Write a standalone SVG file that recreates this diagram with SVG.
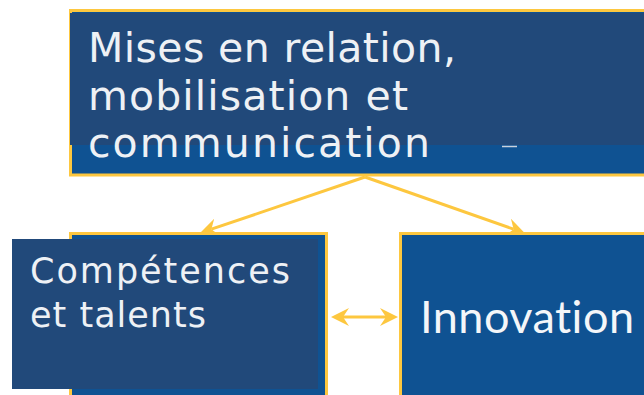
<svg xmlns="http://www.w3.org/2000/svg" width="644" height="395" viewBox="0 0 644 395">
<style>
.box{fill:#0F5292;stroke:#FDC73F;stroke-width:3}
.over{fill:#21497A}
.lbl{font-family:"DejaVu Sans","Open Sans",sans-serif;fill:#EEF1F5}
.big{font-family:Lato,"Open Sans",sans-serif;fill:#F4F6F9;font-size:45px;font-variant-ligatures:none}
.conn{stroke:#FDC73F;stroke-width:3;fill:none}
</style>
<defs>
<marker id="ah" viewBox="0 0 18 18" refX="6" refY="9" markerWidth="18" markerHeight="18" markerUnits="userSpaceOnUse" orient="auto-start-reverse">
<path d="M0,0 L18,9 L0,18 L6,9 Z" fill="#FDC73F"/>
</marker>
</defs>
<rect width="644" height="395" fill="#FFFFFF"/>
<g id="connectors">
<line class="conn" x1="365" y1="177" x2="211.4" y2="229.2" marker-end="url(#ah)"/>
<line class="conn" x1="365" y1="177" x2="513.6" y2="229.2" marker-end="url(#ah)"/>
<line class="conn" x1="343" y1="317" x2="386" y2="317" marker-start="url(#ah)" marker-end="url(#ah)"/>
</g>
<g id="node-mises">
<rect class="box" x="70.5" y="10.5" width="600" height="164.5"/>
<rect class="over" x="70" y="13" width="574" height="132"/>
<text class="lbl" font-size="41" x="88" y="62" textLength="368" lengthAdjust="spacing">Mises en relation,</text>
<text class="lbl" font-size="41" x="88" y="109.5" textLength="320" lengthAdjust="spacing">mobilisation et</text>
<text class="lbl" font-size="41" x="88" y="157" textLength="342" lengthAdjust="spacing">communication</text>
<line x1="502" y1="146.5" x2="517" y2="146.5" stroke="#C9D1DC" stroke-width="1.5"/>
</g>
<g id="node-competences">
<rect class="box" x="70.5" y="233.5" width="256" height="180"/>
<rect class="over" x="12" y="239" width="306" height="150"/>
<text class="lbl" font-size="35" x="30" y="283" textLength="260" lengthAdjust="spacing">Compétences</text>
<text class="lbl" font-size="35" x="30" y="327" textLength="176" lengthAdjust="spacing">et talents</text>
</g>
<g id="node-innovation">
<rect class="box" x="400.5" y="233.5" width="300" height="180"/>
<text class="big" x="420" y="333" textLength="214" lengthAdjust="spacing">Innovation</text>
</g>
</svg>
